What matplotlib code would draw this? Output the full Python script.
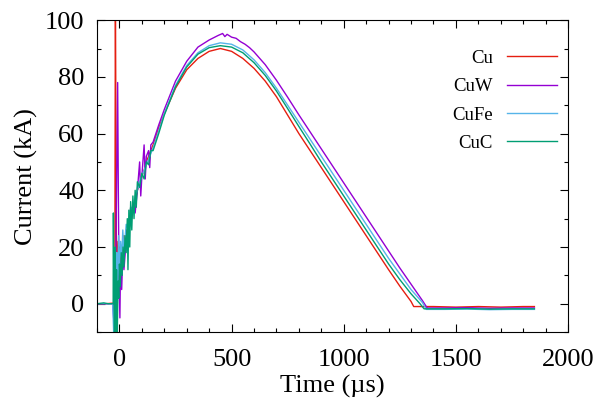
import matplotlib
matplotlib.use("Agg")
import matplotlib.pyplot as plt
from matplotlib.ticker import MultipleLocator

plt.rcParams['font.family'] = ['Liberation Serif', 'DejaVu Serif']

# Time (us) and current (kA)
t_cu = [-100, -60, -30, -22, -21, -18, -14, -10, -6, -2, 2, 6, 10, 15, 20, 25, 30, 35,
        40, 45, 50, 55, 60, 70, 80, 90, 100, 110, 120, 130, 140, 150, 175, 200, 250,
        300, 350, 400, 450, 500, 550, 600, 650, 700, 750, 800, 850, 900, 950, 1000,
        1050, 1100, 1150, 1200, 1250, 1300, 1312, 1400, 1500, 1600, 1700, 1800, 1850]
i_cu = [0, 0, 0.2, 0, -12, 110, 25, 10, 22, 14, 20, 12, 18, 14, 24, 20, 26, 22,
        28, 27, 34, 30, 33, 36, 40, 42, 45, 47, 50, 52, 54, 56, 62, 67, 76,
        82.5, 86.5, 89, 90, 89, 86.5, 83, 78.5, 73, 66.5, 60, 54, 48, 42, 36,
        30, 24, 18, 12, 6.2, 0.8, -1, -1, -1.2, -1, -1.2, -1, -1]

t_cuw = [-100, -60, -30, -20, -8, -5, -2, 2, 5, 10, 15, 20, 30, 40, 50, 60, 70, 80,
         90, 95, 100, 110, 115, 120, 130, 135, 140, 150, 175, 200, 250, 300, 350,
         400, 420, 440, 460, 470, 480, 500, 520, 540, 560, 580, 600, 650, 700, 750,
         800, 850, 900, 950, 1000, 1050, 1100, 1150, 1200, 1250, 1300, 1350, 1372,
         1450, 1550, 1650, 1750, 1850]
i_cuw = [0, 0, 0, -12, 78, 40, 10, -5, 15, 5, 18, 12, 22, 28, 30, 35, 32, 40,
         50, 38, 45, 56, 44, 52, 54, 48, 56, 57, 63, 68.5, 78.5, 85.5, 90.5,
         93, 93.8, 94.6, 95.3, 94.2, 95, 94, 93.6, 92.4, 91.5, 90.3, 88.8, 84.3, 78.8, 72.8,
         66.6, 60.6, 54.6, 48.6, 42.6, 36.6, 30.6, 24.6, 18.6, 12.6, 6.9, 1.2, -1.5,
         -1.5, -1.4, -1.6, -1.5, -1.5]

t_cufe = [-100, -60, -30, -25, -20, -16, -12, -8, -4, 0, 5, 10, 15, 20, 30, 40, 50,
          60, 70, 80, 90, 100, 120, 140, 150, 175, 200, 250, 300, 350, 400, 450, 500,
          550, 600, 650, 700, 750, 800, 850, 900, 950, 1000, 1050, 1100, 1150, 1200,
          1250, 1300, 1350, 1368, 1450, 1550, 1650, 1750, 1850]
i_cufe = [0, 0, 0, -12, 8, -12, 18, 5, 24, 10, 22, 16, 26, 18, 28, 26, 34,
          33, 38, 40, 43, 45, 49, 53, 55, 61, 67, 77, 84, 88.5, 91, 92, 91.5,
          89.5, 86, 81.5, 76, 70, 64, 58, 52, 46, 40, 34, 28, 22, 16,
          10.5, 5, 0.5, -2, -2, -1.9, -2.1, -2, -2]

t_cuc = [-100, -70, -50, -28, -27, -25, -22, -19, -16, -13, -10, -6, -3, 0, 4, 8, 12,
         16, 20, 25, 30, 35, 38, 42, 46, 50, 55, 60, 65, 70, 75, 80, 90, 100, 110, 120,
         130, 140, 150, 175, 200, 250, 300, 350, 400, 450, 500, 550, 600, 650, 700,
         750, 800, 850, 900, 950, 1000, 1050, 1100, 1150, 1200, 1250, 1300, 1340,
         1358, 1450, 1550, 1650, 1750, 1850]
i_cuc = [0, 0.3, 0, 0, 32, 5, -12, 20, -12, 12, -12, 8, 2, 14, 6, 18, 10,
         20, 13, 24, 18, 30, 12, 33, 20, 36, 26, 38, 30, 40, 34, 43, 41, 46, 44, 50,
         49, 54, 54, 60, 66.5, 76.5, 83.5, 88, 90.3, 91, 90.5, 88.5, 85, 80.5, 75,
         68.8, 62.5, 56.3, 50, 44, 38, 32, 26, 20, 14, 8.5, 3.5, 0,
         -1.8, -1.8, -1.7, -1.9, -1.8, -1.8]

series = [
    ('Cu', t_cu, i_cu, '#e51e10'),
    ('CuW', t_cuw, i_cuw, '#9400d3'),
    ('CuFe', t_cufe, i_cufe, '#56b4e9'),
    ('CuC', t_cuc, i_cuc, '#009e73'),
]

fig = plt.figure(figsize=(5.97, 4.03), dpi=100)
ax = fig.add_axes([0.1625, 0.176, 0.789, 0.774])

for name, t, i, c in series:
    ax.plot(t, i, color=c, lw=1.0, label=name)

ax.set_xlim(-100, 2000)
ax.set_ylim(-10, 100)
ax.xaxis.set_major_locator(MultipleLocator(500))
ax.xaxis.set_minor_locator(MultipleLocator(100))
ax.yaxis.set_major_locator(MultipleLocator(20))
ax.yaxis.set_minor_locator(MultipleLocator(10))
ax.tick_params(which='both', direction='in', top=True, right=True, labelsize=19)
ax.tick_params(which='major', length=6, width=0.8)
ax.tick_params(which='minor', length=3, width=0.8)
ax.tick_params(axis='x', which='major', pad=12)
ax.tick_params(axis='y', which='major', pad=9)

ax.set_xlabel('Time (µs)', fontsize=19, labelpad=3)
ax.set_ylabel('Current (kA)', fontsize=19, labelpad=5)

ax.legend(loc='upper right', bbox_to_anchor=(0.977, 0.905), frameon=False,
          markerfirst=False, fontsize=13.5, handlelength=2.67, handletextpad=0.75,
          labelspacing=0.6, borderaxespad=0, borderpad=0)

fig.savefig('out.png', dpi=100)
